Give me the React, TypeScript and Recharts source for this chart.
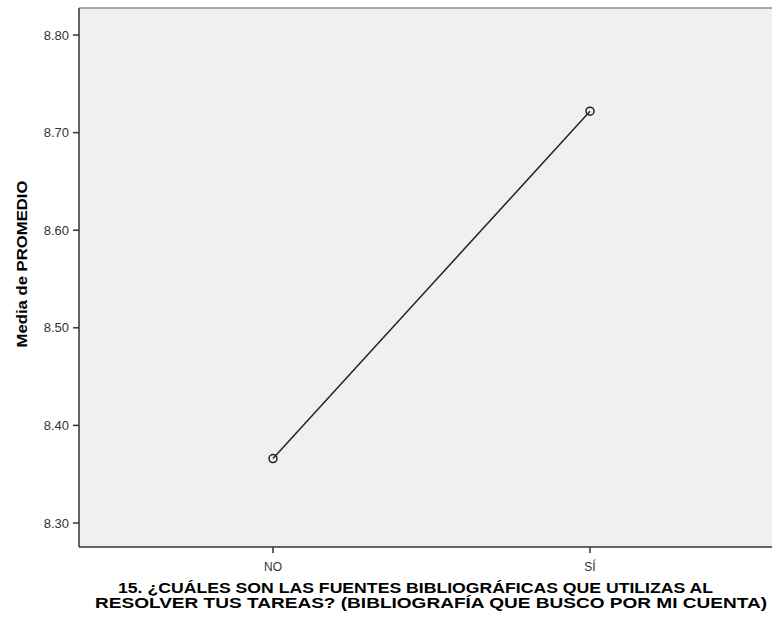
import React from "react";
import {
  LineChart,
  Line,
  XAxis,
  YAxis,
  CartesianGrid,
  ReferenceLine,
  Customized,
} from "recharts";

const categories = ["NO", "SÍ"];
const means = [8.366, 8.722];
const yTicks = [8.3, 8.4, 8.5, 8.6, 8.7, 8.8];
const yDomain: [number, number] = [8.2754, 8.8277];
const yTitle = "Media de PROMEDIO";
const xTitleLines = [
  "15. ¿CUÁLES SON LAS FUENTES BIBLIOGRÁFICAS QUE UTILIZAS AL",
  "RESOLVER TUS TAREAS? (BIBLIOGRAFÍA QUE BUSCO POR MI CUENTA)",
];

const data = categories.map((c, i) => ({ cat: c, value: means[i] }));

const FONT = "'Liberation Sans', Arial, sans-serif";

const Titles = () => (
  <g fontFamily={FONT} fontWeight="bold" fill="#000">
    <text
      x={21}
      y={264}
      fontSize={15}
      textAnchor="middle"
      dominantBaseline="central"
      textLength={167}
      lengthAdjust="spacingAndGlyphs"
      transform="rotate(-90 21 264)"
    >
      {yTitle}
    </text>
    <text
      x={118}
      y={593}
      fontSize={14.5}
      textLength={595}
      lengthAdjust="spacingAndGlyphs"
    >
      {xTitleLines[0]}
    </text>
    <text
      x={95}
      y={608}
      fontSize={14.5}
      textLength={672}
      lengthAdjust="spacingAndGlyphs"
    >
      {xTitleLines[1]}
    </text>
  </g>
);

export default function App() {
  return (
    <div style={{ position: "absolute", left: 0, top: 0, background: "#fff" }}>
      <LineChart
        width={772}
        height={625}
        data={data}
        margin={{ top: 8, right: 0, bottom: 48, left: 0 }}
      >
        <CartesianGrid
          horizontal={false}
          vertical={false}
          fill="#f0f0f0"
          stroke="none"
        />
        <ReferenceLine y={yDomain[1]} stroke="#8c8c8c" strokeWidth={1.5} />
        <XAxis
          dataKey="cat"
          type="category"
          padding={{ left: 194, right: 182 }}
          height={30}
          axisLine={{ stroke: "#333", strokeWidth: 1.5 }}
          tickLine={{ stroke: "#333", strokeWidth: 1.5 }}
          tickSize={6}
          tickMargin={9}
          tick={{ fill: "#333", fontSize: 12, fontFamily: FONT }}
          interval={0}
        />
        <YAxis
          type="number"
          domain={yDomain}
          ticks={yTicks}
          allowDataOverflow
          width={79}
          axisLine={{ stroke: "#333", strokeWidth: 1.5 }}
          tickLine={{ stroke: "#333", strokeWidth: 1.5 }}
          tickSize={6}
          tickMargin={4}
          tick={{ fill: "#333", fontSize: 13, fontFamily: FONT }}
          tickFormatter={(v: number) => v.toFixed(2)}
        />
        <Line
          dataKey="value"
          stroke="#222"
          strokeWidth={1.5}
          isAnimationActive={false}
          dot={{ r: 4, stroke: "#222", strokeWidth: 1.5, fill: "none" }}
          activeDot={false}
        />
        <Customized component={Titles} />
      </LineChart>
    </div>
  );
}
